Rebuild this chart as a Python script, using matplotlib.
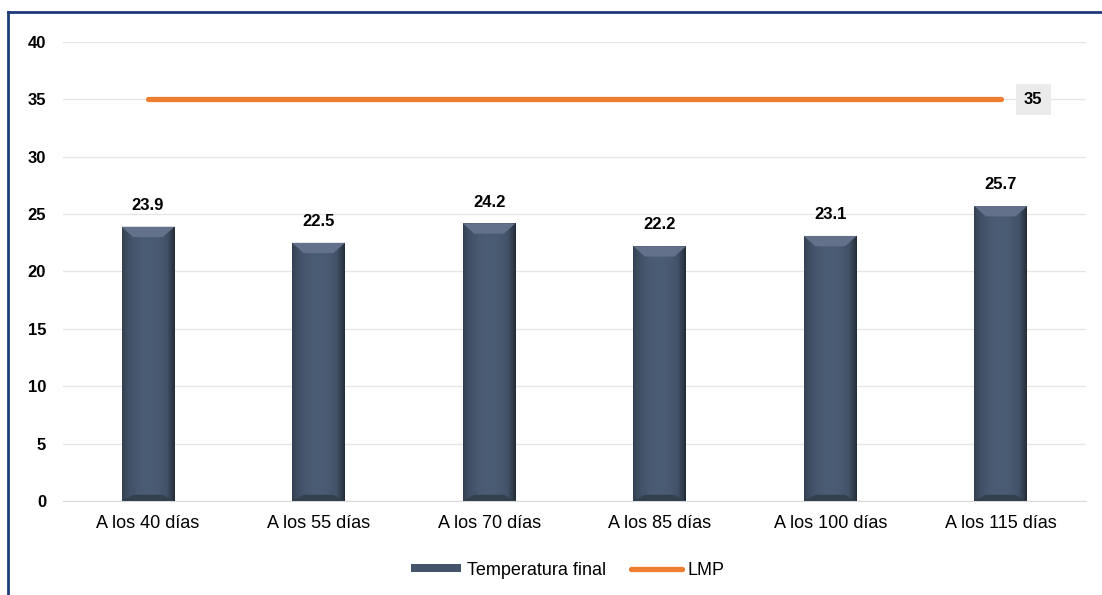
import numpy as np
import matplotlib.pyplot as plt
from matplotlib.lines import Line2D
from matplotlib.patches import Polygon, Rectangle

plt.rcParams['font.family'] = ['Liberation Sans', 'DejaVu Sans']

# Datos
categorias = ['A los 40 días', 'A los 55 días', 'A los 70 días',
              'A los 85 días', 'A los 100 días', 'A los 115 días']
temperatura = [23.9, 22.5, 24.2, 22.2, 23.1, 25.7]
lmp = [35, 35, 35, 35, 35, 35]

color_barra = '#44546a'
color_lmp = '#ed7d31'

fig = plt.figure(figsize=(11.02, 5.95), dpi=100)
ax = fig.add_axes([0.0569, 0.158, 0.9286, 0.7714])

x = np.arange(len(categorias))
ancho = 0.31
barras = ax.bar(x, temperatura, width=ancho, color=color_barra, zorder=2,
                label='Temperatura final')

# efecto biselado en las barras
grad = np.linspace(0, 1, 64)
perfil = 0.75 + 0.35 * np.sin(np.pi * grad) ** 0.6
perfil[-10:] *= np.linspace(1, 0.7, 10)
for b in barras:
    x0, w, h = b.get_x(), b.get_width(), b.get_height()
    base = np.array([0x44, 0x54, 0x6a]) / 255
    img = np.clip(base[None, None, :] * perfil[None, :, None], 0, 1)
    im = ax.imshow(img, extent=[x0, x0 + w, 0, h], aspect='auto', zorder=3)
    im.set_clip_path(b)
    d = 0.9  # altura del bisel
    dx = w * 0.22
    ax.add_patch(Polygon([[x0, h], [x0 + w, h], [x0 + w - dx, h - d], [x0 + dx, h - d]],
                         closed=True, facecolor='#63728a', edgecolor='none', zorder=4))
    ax.add_patch(Polygon([[x0, 0], [x0 + w, 0], [x0 + w - dx, d * 0.6], [x0 + dx, d * 0.6]],
                         closed=True, facecolor='#33404f', edgecolor='none', zorder=4))
    ax.text(x0 + w / 2, h + 1.2, f'{h:.1f}', ha='center', va='bottom',
            fontsize=12, fontweight='bold', color='black', zorder=5)

ax.plot(x, lmp, color=color_lmp, linewidth=3.8, solid_capstyle='round', zorder=5, label='LMP')
ax.text(x[-1] + 0.19, lmp[-1], f'{lmp[-1]}', ha='center', va='center', fontsize=12,
        fontweight='bold', zorder=6,
        bbox=dict(boxstyle='square,pad=0.5', facecolor='#ebebeb', edgecolor='none'))

ax.set_xlim(-0.5, len(categorias) - 0.5)
ax.set_ylim(0, 40)
ax.set_yticks(np.arange(0, 41, 5))
ax.set_xticks(x)
ax.set_xticklabels(categorias, fontsize=13)
for t in ax.get_yticklabels():
    t.set_fontweight('bold')
    t.set_fontsize(12)
ax.tick_params(axis='both', length=0, pad=10)
ax.tick_params(axis='y', pad=12)
ax.grid(axis='y', color='#e6e6e6', linewidth=1, zorder=0)
ax.set_axisbelow(True)
for s in ['top', 'right', 'left']:
    ax.spines[s].set_visible(False)
ax.spines['bottom'].set_color('#d9d9d9')

h_barra = Rectangle((0, 0), 1, 1, facecolor=color_barra, edgecolor='none')
h_lmp = Line2D([0], [0], color=color_lmp, linewidth=3.8, solid_capstyle='round')
fig.legend([h_barra, h_lmp], ['Temperatura final', 'LMP'], loc='center',
           bbox_to_anchor=(0.515, 0.042), ncol=2, frameon=False, fontsize=13,
           handlelength=2.8, handleheight=0.35, handletextpad=0.3, columnspacing=1.4)

# borde azul del grafico
fig.add_artist(Line2D([8 / 1102, 1], [1 - 12 / 595, 1 - 12 / 595], color='#1f3b7a',
                      linewidth=2, transform=fig.transFigure))
fig.add_artist(Line2D([8 / 1102, 8 / 1102], [0, 1 - 12 / 595], color='#1f3b7a',
                      linewidth=2, transform=fig.transFigure))

fig.savefig('out.png', dpi=100)
